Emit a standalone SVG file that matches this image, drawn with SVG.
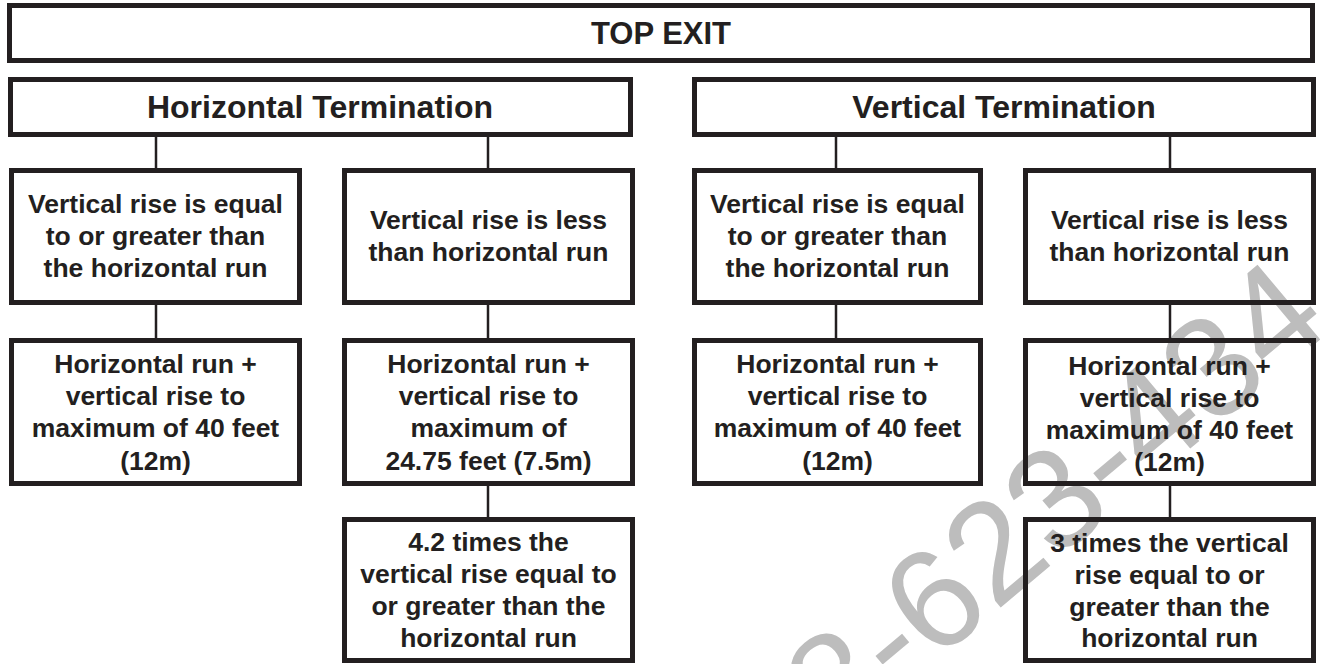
<svg xmlns="http://www.w3.org/2000/svg" width="1320" height="664" viewBox="0 0 1320 664">
<style>
.box{fill:none;stroke:#231f20;stroke-width:5}
.con{stroke:#231f20;stroke-width:2.5;fill:none}
text{font-family:"Liberation Sans",Arial,sans-serif;font-weight:bold;fill:#231f20;text-anchor:middle}
.t{font-size:26.5px}
.h{font-size:32px}
.top{font-size:31px}
.wm{font-weight:normal;fill:#bdbdbd;font-size:142px;text-anchor:start}
</style>
<rect width="1320" height="664" fill="#fff"/>
<g id="watermark"><text class="wm" transform="translate(838,744) rotate(-40)">8-623-434</text></g>
<g id="connectors">
<line class="con" x1="156" y1="137" x2="156" y2="168"/>
<line class="con" x1="488" y1="137" x2="488" y2="168"/>
<line class="con" x1="836" y1="137" x2="836" y2="168"/>
<line class="con" x1="1170" y1="137" x2="1170" y2="168"/>
<line class="con" x1="156" y1="305" x2="156" y2="338"/>
<line class="con" x1="488" y1="305" x2="488" y2="338"/>
<line class="con" x1="836" y1="305" x2="836" y2="338"/>
<line class="con" x1="1170" y1="305" x2="1170" y2="338"/>
<line class="con" x1="488" y1="486" x2="488" y2="517"/>
<line class="con" x1="1170" y1="486" x2="1170" y2="517"/>
</g>
<g id="top-exit"><rect class="box" x="9.5" y="5.5" width="1303" height="55"/><text class="top" x="661" y="44">TOP EXIT</text></g>
<g id="horizontal-termination"><rect class="box" x="10.5" y="79.5" width="620" height="55"/><text class="h" x="320" y="118">Horizontal Termination</text></g>
<g id="vertical-termination"><rect class="box" x="694.5" y="79.5" width="619" height="55"/><text class="h" x="1004" y="118">Vertical Termination</text></g>
<g id="h-rise-ge"><rect class="box" x="11.5" y="170.5" width="288" height="132"/><text class="t" x="155.5" y="213">Vertical rise is equal</text><text class="t" x="155.5" y="245">to or greater than</text><text class="t" x="155.5" y="277">the horizontal run</text></g>
<g id="h-rise-lt"><rect class="box" x="344.5" y="170.5" width="288" height="132"/><text class="t" x="488.5" y="229">Vertical rise is less</text><text class="t" x="488.5" y="261">than horizontal run</text></g>
<g id="v-rise-ge"><rect class="box" x="694.5" y="170.5" width="286" height="132"/><text class="t" x="837.5" y="213">Vertical rise is equal</text><text class="t" x="837.5" y="245">to or greater than</text><text class="t" x="837.5" y="277">the horizontal run</text></g>
<g id="v-rise-lt"><rect class="box" x="1025.5" y="170.5" width="288" height="132"/><text class="t" x="1169.5" y="229">Vertical rise is less</text><text class="t" x="1169.5" y="261">than horizontal run</text></g>
<g id="h-max-40"><rect class="box" x="11.5" y="340.5" width="288" height="143"/><text class="t" x="155.5" y="373">Horizontal run +</text><text class="t" x="155.5" y="405">vertical rise to</text><text class="t" x="155.5" y="437">maximum of 40 feet</text><text class="t" x="155.5" y="470">(12m)</text></g>
<g id="h-max-2475"><rect class="box" x="344.5" y="340.5" width="288" height="143"/><text class="t" x="488.5" y="373">Horizontal run +</text><text class="t" x="488.5" y="405">vertical rise to</text><text class="t" x="488.5" y="437">maximum of</text><text class="t" x="488.5" y="470">24.75 feet (7.5m)</text></g>
<g id="v-max-40"><rect class="box" x="694.5" y="340.5" width="286" height="143"/><text class="t" x="837.5" y="373">Horizontal run +</text><text class="t" x="837.5" y="405">vertical rise to</text><text class="t" x="837.5" y="437">maximum of 40 feet</text><text class="t" x="837.5" y="470">(12m)</text></g>
<g id="v-max-40b"><rect class="box" x="1025.5" y="340.5" width="288" height="143"/><text class="t" x="1169.5" y="375">Horizontal run +</text><text class="t" x="1169.5" y="407">vertical rise to</text><text class="t" x="1169.5" y="439">maximum of 40 feet</text><text class="t" x="1169.5" y="471">(12m)</text></g>
<g id="h-42-times"><rect class="box" x="344.5" y="519.5" width="288" height="141"/><text class="t" x="488.5" y="551">4.2 times the</text><text class="t" x="488.5" y="583">vertical rise equal to</text><text class="t" x="488.5" y="615">or greater than the</text><text class="t" x="488.5" y="647">horizontal run</text></g>
<g id="v-3-times"><rect class="box" x="1025.5" y="519.5" width="288" height="141"/><text class="t" x="1169.5" y="552">3 times the vertical</text><text class="t" x="1169.5" y="584">rise equal to or</text><text class="t" x="1169.5" y="616">greater than the</text><text class="t" x="1169.5" y="647">horizontal run</text></g>
</svg>
